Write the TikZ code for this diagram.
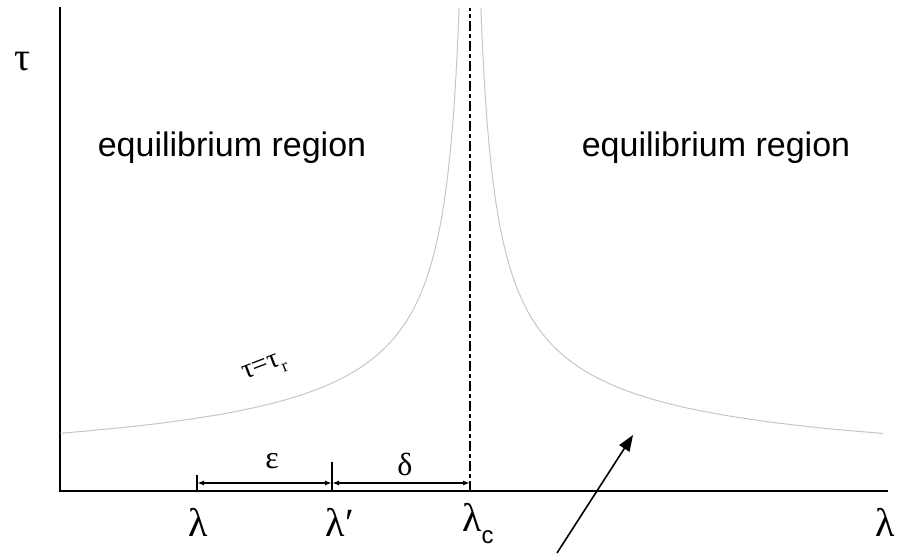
\documentclass[tikz,border=0pt]{standalone}
\usepackage{fontspec}
\setmainfont{Liberation Sans}
\newfontfamily\grk{Liberation Serif}
\usetikzlibrary{arrows.meta}

\begin{document}
\begin{tikzpicture}[x=0.5pt, y=0.5pt,
    axis/.style={line width=1.1pt, line cap=rect},
    curve/.style={gray!45, line width=0.5pt},
    dimline/.style={line width=0.8pt, {Latex[length=3.5pt,width=2.5pt]}-{Latex[length=3.5pt,width=2.5pt]}},
    greek/.style={font=\fontsize{20}{24}\selectfont\grk},
    region/.style={font=\fontsize{17}{21}\selectfont, anchor=base}]
  \useasboundingbox (0,0) rectangle (907,553);
  % axes
  \coordinate (O) at (60,62);
  \coordinate (ytop) at (60,545);
  \coordinate (xend) at (887,62);
  \draw[axis] (ytop) -- (O) -- (xend);
  \node[greek] (tau) at (23,491) {τ};
  \node[greek] (lamx) at (885,31) {λ};
  % critical point
  \coordinate (lc) at (470,62);
  \coordinate (lctop) at (470,545);
  \draw[line width=1pt, dash pattern=on 5pt off 1.5pt on 2pt off 1.5pt] (lc) -- (lctop);
  % tau = tau_r curve, both branches
  \draw[curve] plot[domain=2.389:6.016, samples=150] ({470-exp(\x)}, {65.5+2010*exp(-0.6*\x)});
  \draw[curve] plot[domain=2.389:6.025, samples=150] ({470+exp(\x)}, {65.5+2010*exp(-0.6*\x)});
  \node[font=\fontsize{14}{16}\selectfont\grk, rotate=21] (taur) at (265,184) {τ=τ\raisebox{-4pt}{\fontsize{9}{10}\selectfont r}};
  % regions
  \node[region] (eqleft) at (232,396) {equilibrium region};
  \node[region] (eqright) at (716,396) {equilibrium region};
  % ticks and distances
  \coordinate (l) at (197,62);
  \coordinate (ltop) at (197,78);
  \coordinate (lp) at (332,62);
  \coordinate (lptop) at (332,91);
  \draw[line width=0.8pt] (l) -- (ltop);
  \draw[line width=0.8pt] (lp) -- (lptop);
  \coordinate (d1) at (197,70);
  \coordinate (d2) at (332,70);
  \coordinate (d3) at (470,70);
  \draw[dimline] (d1) -- (d2);
  \draw[dimline] (d2) -- (d3);
  \node[font=\fontsize{16}{18}\selectfont\grk] (eps) at (272,92) {ε};
  \node[font=\fontsize{16}{18}\selectfont\grk] (delta) at (405,89) {δ};
  \node[greek] (lam) at (198,31) {λ};
  \node[greek] (lamp) at (340,31) {λ′};
  \node[greek] (lamc) at (478,29) {λ\raisebox{-6pt}{\fontsize{12}{14}\selectfont\rmfamily c}};
  % pointer
  \coordinate (ptr) at (557,0);
  \coordinate (ptrtip) at (633,118);
  \draw[line width=0.8pt, -{Triangle[length=8pt,width=6pt]}] (ptr) -- (ptrtip);
\end{tikzpicture}
\end{document}
